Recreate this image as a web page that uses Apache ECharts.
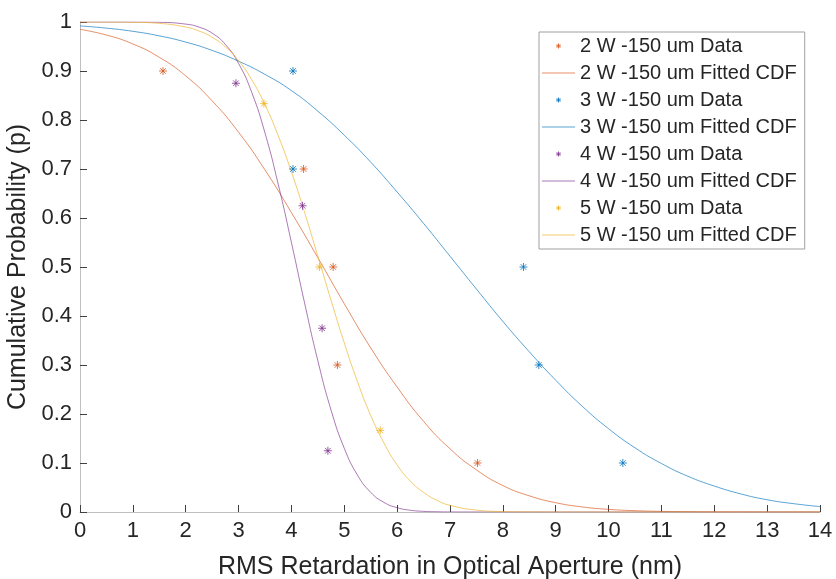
<!DOCTYPE html>
<html>
<head>
<meta charset="utf-8">
<script src="https://cdn.jsdelivr.net/npm/echarts@6/dist/echarts.min.js"></script>
<style>
  html, body { margin: 0; padding: 0; background: #fff; }
  #main { width: 836px; height: 579px; }
</style>
</head>
<body>
<div id="main"></div>
<script>
// measured points (x = RMS retardation, y = cumulative probability)
var x2W = [1.57, 4.23, 4.79, 4.87, 7.52];
var y2W = [0.9, 0.7, 0.5, 0.3, 0.1];
var x3W = [4.03, 4.03, 8.39, 8.68, 10.27];
var y3W = [0.9, 0.7, 0.5, 0.3, 0.1];
var x4W = [2.95, 4.21, 4.58, 4.69];
var y4W = [0.875, 0.625, 0.375, 0.125];
var x5W = [3.48, 4.53, 5.68];
var y5W = [0.8333, 0.5, 0.1667];

// fitted curves
var fitXCoarse = [0, 0.5, 1, 1.5, 2, 2.5, 3, 3.5, 4, 4.5, 5, 5.5, 6, 6.5, 7, 7.5,
  8, 8.5, 9, 9.5, 10, 10.5, 11, 11.5, 12, 12.5, 13, 13.5, 14];
var fit2W = [0.985, 0.9734, 0.9552, 0.928, 0.890, 0.839, 0.775, 0.698, 0.611, 0.519,
  0.425, 0.335, 0.255, 0.185, 0.129, 0.086, 0.054, 0.033, 0.019, 0.0104, 0.0054,
  0.0027, 0.0013, 0.0006, 0.0002, 0.0001, 0, 0, 0];
var fit3W = [0.992, 0.9875, 0.981, 0.9717, 0.959, 0.942, 0.920, 0.893, 0.860, 0.818,
  0.769, 0.714, 0.653, 0.589, 0.522, 0.455, 0.389, 0.327, 0.269, 0.216, 0.170,
  0.131, 0.099, 0.073, 0.053, 0.037, 0.025, 0.017, 0.011];

var fitXFine = [0, 0.5, 1, 1.5, 2, 2.25, 2.5, 2.75, 3, 3.25, 3.5, 3.75, 4, 4.25, 4.5,
  4.75, 5, 5.25, 5.5, 5.75, 6, 6.25, 6.5, 6.75, 7, 7.5, 8, 8.5, 9, 9.5, 10, 10.5,
  11, 11.5, 12, 12.5, 13, 13.5, 14];
var fit4W = [1, 1, 1, 0.9994, 0.9957, 0.9896, 0.9772, 0.9542, 0.9154, 0.856, 0.7734,
  0.669, 0.550, 0.426, 0.3085, 0.208, 0.130, 0.0753, 0.0401, 0.0196, 0.0088, 0.0036,
  0.0013, 0.0005, 0.0001, 0, 0, 0, 0, 0, 0, 0, 0, 0, 0, 0, 0, 0, 0];
var fit5W = [1, 0.9999, 0.9994, 0.9972, 0.9897, 0.9817, 0.9689, 0.9493, 0.921, 0.882,
  0.831, 0.768, 0.694, 0.611, 0.522, 0.432, 0.345, 0.266, 0.197, 0.141, 0.096, 0.063,
  0.040, 0.024, 0.0136, 0.0039, 0.0009, 0.0002, 0, 0, 0, 0, 0, 0, 0, 0, 0, 0, 0];

var names = ['2 W -150 um', '3 W -150 um', '4 W -150 um', '5 W -150 um'];
var colors = ['#D95319', '#0072BD', '#7E2F8E', '#EDB120'];

function pairs(xs, ys) {
  return xs.map(function (x, i) { return [x, ys[i]]; });
}

var star = 'path://M5,0L5,10M0,5L10,5M1.5,1.5L8.5,8.5M1.5,8.5L8.5,1.5';
var bar = 'path://M0,0L33,0L33,1L0,1Z';
var txt = '#262626';
var font = 'Liberation Sans, Arial, sans-serif';

var groups = [
  [x2W, y2W, fitXCoarse, fit2W],
  [x3W, y3W, fitXCoarse, fit3W],
  [x4W, y4W, fitXFine, fit4W],
  [x5W, y5W, fitXFine, fit5W]
];

var series = [];
var legendData = [];
groups.forEach(function (g, i) {
  series.push({
    name: names[i] + ' Data',
    type: 'scatter',
    symbol: star,
    symbolSize: 8,
    symbolKeepAspect: true,
    itemStyle: { color: colors[i], borderColor: colors[i], borderWidth: 1 },
    data: pairs(g[0], g[1]),
    z: 3
  });
  series.push({
    name: names[i] + ' Fitted CDF',
    type: 'line',
    symbol: 'none',
    smooth: true,
    lineStyle: { color: colors[i], width: 1, opacity: 0.65 },
    itemStyle: { color: colors[i], opacity: 0.65 },
    data: pairs(g[2], g[3]),
    z: 2
  });
  legendData.push({
    name: names[i] + ' Data',
    icon: star,
    itemStyle: { color: colors[i], borderColor: colors[i], borderWidth: 1, opacity: 0.8 }
  });
  legendData.push({
    name: names[i] + ' Fitted CDF',
    icon: bar,
    itemStyle: { color: colors[i], borderWidth: 0, opacity: 0.65 }
  });
});

var myChart = echarts.init(document.getElementById('main'));
myChart.setOption({
  animation: false,
  textStyle: { fontFamily: font },
  grid: { left: 80, right: 16, top: 22, bottom: 67, outerBoundsMode: 'none' },
  legend: {
    orient: 'vertical',
    left: 539,
    top: 32,
    padding: [4, 8, 4, 3],
    itemGap: 7,
    itemWidth: 33,
    itemHeight: 5,
    symbolKeepAspect: true,
    borderColor: '#a0a0a0',
    borderWidth: 1,
    borderRadius: 0,
    backgroundColor: '#fff',
    textStyle: { fontSize: 20, color: txt, fontFamily: font },
    data: legendData
  },
  xAxis: {
    type: 'value',
    min: 0,
    max: 14,
    interval: 1,
    name: 'RMS Retardation in Optical Aperture (nm)',
    nameLocation: 'middle',
    nameGap: 43,
    nameTextStyle: { fontSize: 25, color: txt, fontFamily: font },
    axisLine: { lineStyle: { color: '#c0c0c0' } },
    axisTick: { inside: true, length: 7, lineStyle: { color: '#404040' } },
    axisLabel: { fontSize: 22, color: txt, margin: 8, fontFamily: font },
    splitLine: { show: false }
  },
  yAxis: {
    type: 'value',
    min: 0,
    max: 1,
    interval: 0.1,
    name: 'Cumulative Probability (p)',
    nameLocation: 'middle',
    nameGap: 40,
    nameTextStyle: { fontSize: 25, color: txt, fontFamily: font },
    axisLine: { show: true, lineStyle: { color: '#c0c0c0' } },
    axisTick: { show: true, inside: true, length: 7, lineStyle: { color: '#404040' } },
    axisLabel: { fontSize: 22, color: txt, margin: 8, fontFamily: font },
    splitLine: { show: false }
  },
  series: series
});
</script>
</body>
</html>
